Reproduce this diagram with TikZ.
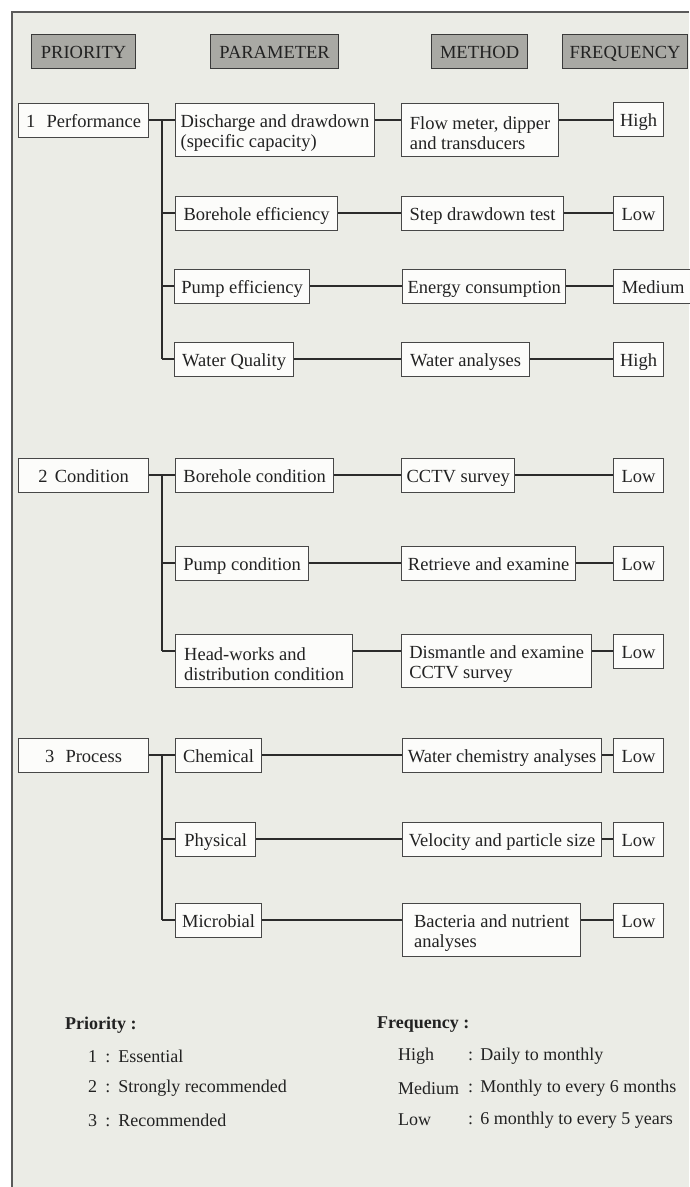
\documentclass[tikz,border=0pt]{standalone}
\usepackage{fontspec}
\setmainfont{Liberation Serif}
\usetikzlibrary{calc}
\definecolor{bgc}{HTML}{EBECE6}
\definecolor{framec}{HTML}{5A5A5A}
\definecolor{boxc}{HTML}{474747}
\definecolor{boxf}{HTML}{FCFCFA}
\definecolor{hdrf}{HTML}{A9A9A4}
\definecolor{hdrb}{HTML}{3A3A3A}
\definecolor{linec}{HTML}{2B2B2B}
\definecolor{txt}{HTML}{222222}
\newcommand{\firstl}{\rule{0pt}{19pt}}
\begin{document}
\begin{tikzpicture}[x=1pt,y=-1pt,
  box/.style={draw=boxc, line width=1.2pt, fill=boxf, anchor=north west,
    inner xsep=5pt, inner ysep=0pt, align=left, minimum height=34pt,
    font=\fontsize{18.5}{20}\selectfont, text=txt},
  one/.style={text height=15.75pt, text depth=1.75pt},
  tall/.style={minimum height=53pt},
  hdr/.style={draw=hdrb, line width=1.2pt, fill=hdrf, anchor=north west,
    minimum height=34pt, inner sep=0pt, text height=15.5pt, text depth=1.5pt,
    font=\fontsize{18.5}{20}\selectfont, text=txt},
  link/.style={draw=linec, line width=2.4pt},
  leg/.style={anchor=west, inner sep=0pt, font=\fontsize{18}{20}\selectfont, text=txt}]

\useasboundingbox (0,0) rectangle (689,1187);
\fill[white] (0,0) rectangle (689,1187);
\fill[bgc] (12,12) rectangle (689,1187);
\draw[framec, line width=1.4pt] (12,1187) -- (12,12) -- (689,12);

% headers
\node[hdr, minimum width=104pt] (hpri) at (31,34) {PRIORITY};
\node[hdr, minimum width=128pt] (hpar) at (210,34) {PARAMETER};
\node[hdr, minimum width=96pt] (hmet) at (431,34) {METHOD};
\node[hdr, minimum width=125pt] (hfre) at (562,34) {FREQUENCY};

% row levels
\coordinate (r1) at (0,120);
\coordinate (r2) at (0,213);
\coordinate (r3) at (0,286);
\coordinate (r4) at (0,359);
\coordinate (r5) at (0,475);
\coordinate (r6) at (0,563);
\coordinate (r7) at (0,651);
\coordinate (r8) at (0,755);
\coordinate (r9) at (0,839);
\coordinate (r10) at (0,920);

% section 1
\node[box, one, minimum width=130pt] (perf) at (18,103) {1\hspace{0.6em}Performance};
\node[box, tall, minimum width=198pt] (dis) at (175,103) {\firstl Discharge and drawdown\\(specific capacity)};
\node[box, tall, minimum width=157pt] (flow) at (401,103) {\firstl Flow meter, dipper\\and transducers};
\node[box, one, minimum width=50pt] (f1) at (613,102) {High};

\node[box, one, minimum width=162pt] (beff) at (175,196) {Borehole efficiency};
\node[box, one, minimum width=162pt] (step) at (401,196) {Step drawdown test};
\node[box, one, minimum width=50pt] (f2) at (613,196) {Low};

\node[box, one, minimum width=135pt] (peff) at (174,269) {Pump efficiency};
\node[box, one, minimum width=161pt] (ener) at (402,269) {Energy consumption};
\node[box, one, minimum width=79pt] (f3) at (613,269) {Medium};

\node[box, one, minimum width=119pt] (wq) at (174,342) {Water Quality};
\node[box, one, minimum width=128pt] (wan) at (401,342) {Water analyses};
\node[box, one, minimum width=50pt] (f4) at (613,342) {High};

% section 2
\node[box, one, minimum width=130pt] (cond) at (18,458) {2\hspace{0.4em}Condition};
\node[box, one, minimum width=158pt] (bcond) at (175,458) {Borehole condition};
\node[box, one, minimum width=112pt] (cctv) at (401,458) {CCTV survey};
\node[box, one, minimum width=50pt] (f5) at (613,458) {Low};

\node[box, one, minimum width=133pt] (pcond) at (175,546) {Pump condition};
\node[box, one, minimum width=174pt] (retr) at (401,546) {Retrieve and examine};
\node[box, one, minimum width=50pt] (f6) at (613,546) {Low};

\node[box, tall, minimum width=177pt] (hw) at (175,634) {\firstl Head-works and\\distribution condition};
\node[box, tall, minimum width=190pt] (dism) at (401,634) {\firstl Dismantle and examine\\CCTV survey};
\node[box, one, minimum width=50pt] (f7) at (613,634) {Low};

% section 3
\node[box, one, minimum width=130pt] (proc) at (18,738) {3\hspace{0.6em}Process};
\node[box, one, minimum width=86pt] (chem) at (175,738) {Chemical};
\node[box, one, minimum width=199pt] (wchem) at (402,738) {Water chemistry analyses};
\node[box, one, minimum width=50pt] (f8) at (613,738) {Low};

\node[box, one, minimum width=80pt] (phys) at (175,822) {Physical};
\node[box, one, minimum width=199pt] (velo) at (402,822) {Velocity and particle size};
\node[box, one, minimum width=50pt] (f9) at (613,822) {Low};

\node[box, one, minimum width=86pt] (micr) at (175,903) {Microbial};
\node[box, tall, minimum width=178pt] (bact) at (402,903) {\firstl Bacteria and nutrient\\analyses};
\node[box, one, minimum width=50pt] (f10) at (613,903) {Low};

% trunks
\coordinate (j1) at (162,120);
\coordinate (j1e) at (162,359);
\coordinate (j2) at (162,475);
\coordinate (j2e) at (162,651);
\coordinate (j3) at (162,755);
\coordinate (j3e) at (162,920);

\draw[link] (perf.east |- r1) -- (dis.west |- r1);
\draw[link] (j1) -- (j1e);
\draw[link] (j1 |- r2) -- (beff.west |- r2);
\draw[link] (j1 |- r3) -- (peff.west |- r3);
\draw[link] (j1 |- r4) -- (wq.west |- r4);
\draw[link] (dis.east |- r1) -- (flow.west |- r1);
\draw[link] (flow.east |- r1) -- (f1.west |- r1);
\draw[link] (beff.east |- r2) -- (step.west |- r2);
\draw[link] (step.east |- r2) -- (f2.west |- r2);
\draw[link] (peff.east |- r3) -- (ener.west |- r3);
\draw[link] (ener.east |- r3) -- (f3.west |- r3);
\draw[link] (wq.east |- r4) -- (wan.west |- r4);
\draw[link] (wan.east |- r4) -- (f4.west |- r4);

\draw[link] (cond.east |- r5) -- (bcond.west |- r5);
\draw[link] (j2) -- (j2e);
\draw[link] (j2 |- r6) -- (pcond.west |- r6);
\draw[link] (j2 |- r7) -- (hw.west |- r7);
\draw[link] (bcond.east |- r5) -- (cctv.west |- r5);
\draw[link] (cctv.east |- r5) -- (f5.west |- r5);
\draw[link] (pcond.east |- r6) -- (retr.west |- r6);
\draw[link] (retr.east |- r6) -- (f6.west |- r6);
\draw[link] (hw.east |- r7) -- (dism.west |- r7);
\draw[link] (dism.east |- r7) -- (f7.west |- r7);

\draw[link] (proc.east |- r8) -- (chem.west |- r8);
\draw[link] (j3) -- (j3e);
\draw[link] (j3 |- r9) -- (phys.west |- r9);
\draw[link] (j3 |- r10) -- (micr.west |- r10);
\draw[link] (chem.east |- r8) -- (wchem.west |- r8);
\draw[link] (wchem.east |- r8) -- (f8.west |- r8);
\draw[link] (phys.east |- r9) -- (velo.west |- r9);
\draw[link] (velo.east |- r9) -- (f9.west |- r9);
\draw[link] (micr.east |- r10) -- (bact.west |- r10);
\draw[link] (bact.east |- r10) -- (f10.west |- r10);

% legend
\node[leg, font=\fontsize{18}{20}\selectfont\bfseries] (lpri) at (65,1025) {Priority :};
\node[leg] (lp1) at (88,1056) {1\hspace{0.45em}:\hspace{0.45em}Essential};
\node[leg] (lp2) at (88,1088) {2\hspace{0.45em}:\hspace{0.45em}Strongly recommended};
\node[leg] (lp3) at (88,1120) {3\hspace{0.45em}:\hspace{0.45em}Recommended};

\node[leg, font=\fontsize{18}{20}\selectfont\bfseries] (lfre) at (377,1025) {Frequency :};
\node[leg] (lf1) at (398,1056) {High};
\node[leg] (lf2) at (398,1088) {Medium};
\node[leg] (lf3) at (398,1120) {Low};
\node[leg] (ld1) at (468,1056) {:\hspace{0.4em}Daily to monthly};
\node[leg] (ld2) at (468,1088) {:\hspace{0.4em}Monthly to every 6 months};
\node[leg] (ld3) at (468,1120) {:\hspace{0.4em}6 monthly to every 5 years};
\end{tikzpicture}
\end{document}
